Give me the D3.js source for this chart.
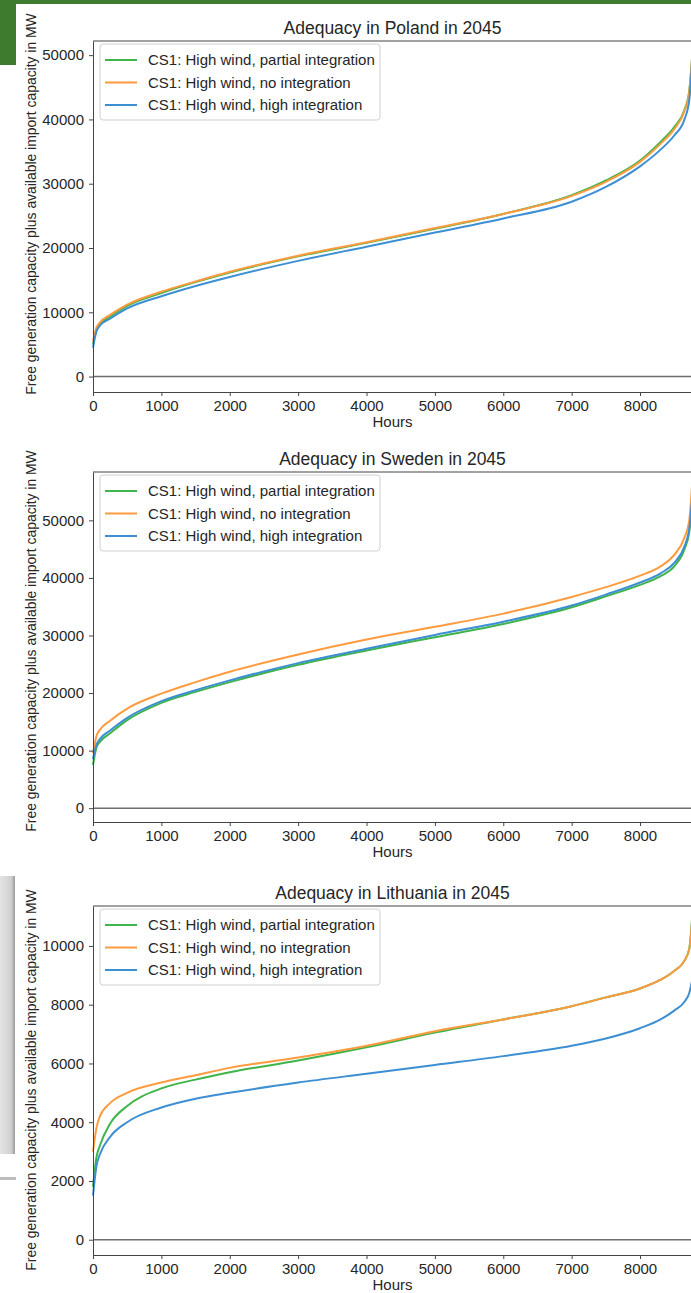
<!DOCTYPE html>
<html>
<head>
<meta charset="utf-8">
<style>
  html, body { margin: 0; padding: 0; background: #fff; }
  svg { display: block; font-family: "Liberation Sans", Arial, sans-serif; }
  .tick text { fill: #262626; font-size: 15px; }
  .tick line { stroke: #444; }
  .domain { stroke: #444; }
</style>
</head>
<body>
<svg id="svg" width="691" height="1293"></svg>
<script src="https://d3js.org/d3.v7.min.js"></script>
<script>
// ----------------------------------------------------------------------------
//                               DATA
// ----------------------------------------------------------------------------
// Sample hours of the sorted (duration) curves.
var hours = [0, 50, 100, 250, 500, 1000, 1500, 2000, 3000, 4000, 5000,
             6000, 7000, 7500, 8000, 8300, 8500, 8650, 8720, 8760];

var seriesNames = ["CS1: High wind, partial integration",
                   "CS1: High wind, no integration",
                   "CS1: High wind, high integration"];
var seriesColors = ["#3fb44a", "#ff9b3f", "#3d8fd3"];

// Poland
var polandPartial = [5000, 7200, 8100, 9300, 11000, 13000, 14700, 16200, 18700, 20800,
                     23000, 25300, 28200, 30500, 33600, 36500, 38800, 41500, 44500, 49500];
var polandNone    = [5500, 7600, 8400, 9600, 11200, 13200, 14800, 16300, 18800, 20900,
                     23100, 25300, 28100, 30300, 33400, 36200, 38500, 41300, 44300, 49300];
var polandHigh    = [4500, 7000, 7900, 9000, 10600, 12500, 14100, 15500, 18000, 20200,
                     22400, 24600, 27200, 29500, 32700, 35300, 37500, 40000, 43000, 48500];

// Sweden
var swedenPartial = [7500, 10500, 11500, 13000, 15300, 18300, 20200, 21900, 24900, 27400,
                     29700, 32000, 34900, 36800, 38800, 40300, 42000, 45000, 48000, 53000];
var swedenNone    = [9500, 12500, 13600, 15200, 17300, 19900, 21900, 23700, 26700, 29300,
                     31500, 33800, 36700, 38400, 40400, 42000, 44000, 47000, 50000, 56000];
var swedenHigh    = [8500, 11000, 12000, 13500, 15700, 18600, 20500, 22200, 25200, 27700,
                     30100, 32400, 35200, 37100, 39200, 40800, 42600, 45500, 48500, 53500];

// Lithuania
var lithuaniaPartial = [1800, 2800, 3200, 3950, 4550, 5150, 5450, 5700, 6100, 6550,
                        7050, 7500, 7950, 8250, 8550, 8850, 9150, 9500, 9900, 10900];
var lithuaniaNone    = [3000, 3800, 4200, 4650, 5000, 5350, 5600, 5850, 6200, 6600,
                        7100, 7500, 7950, 8250, 8550, 8850, 9150, 9500, 9900, 10800];
var lithuaniaHigh    = [1500, 2500, 2900, 3500, 4000, 4500, 4800, 5000, 5350, 5650,
                        5950, 6250, 6600, 6850, 7200, 7500, 7800, 8100, 8400, 8800];

// Tick labels
var xTicks = [0, 1000, 2000, 3000, 4000, 5000, 6000, 7000, 8000];
var yTicksLarge = [0, 10000, 20000, 30000, 40000, 50000];
var yTicksSmall = [0, 2000, 4000, 6000, 8000, 10000];

// ----------------------------------------------------------------------------
//                               LAYOUT
// ----------------------------------------------------------------------------
var left = 93, right = 692;
var panels = [
  { title: "Adequacy in Poland in 2045", top: 41, bottom: 392, ydom: [-2400, 52200],
    yticks: yTicksLarge, labelY: 204, series: [polandPartial, polandNone, polandHigh] },
  { title: "Adequacy in Sweden in 2045", top: 472, bottom: 822, ydom: [-2400, 58400],
    yticks: yTicksLarge, labelY: 641, series: [swedenPartial, swedenNone, swedenHigh] },
  { title: "Adequacy in Lithuania in 2045", top: 906, bottom: 1255, ydom: [-520, 11360],
    yticks: yTicksSmall, labelY: 1080, series: [lithuaniaPartial, lithuaniaNone, lithuaniaHigh] }
];

var svg = d3.select("#svg");

// Scan artefacts around the figure (page border and green header).
svg.append("rect").attr("x", 0).attr("y", 0).attr("width", 691).attr("height", 4).attr("fill", "#3e7b2f");
svg.append("rect").attr("x", 0).attr("y", 0).attr("width", 16).attr("height", 65).attr("fill", "#3e7b2f");
var grad = svg.append("defs").append("linearGradient").attr("id", "shade");
grad.append("stop").attr("offset", "0%").attr("stop-color", "#e4e4e4");
grad.append("stop").attr("offset", "75%").attr("stop-color", "#cfcfcf");
grad.append("stop").attr("offset", "100%").attr("stop-color", "#9a9a9a");
svg.append("rect").attr("x", 0).attr("y", 876).attr("width", 15).attr("height", 278).attr("fill", "url(#shade)");
svg.append("rect").attr("x", 0).attr("y", 1177).attr("width", 16).attr("height", 3).attr("fill", "#bdbdbd");

var x = d3.scaleLinear().domain([0, 8760]).range([left, right]);

panels.forEach(function(p) {
  var y = d3.scaleLinear().domain(p.ydom).range([p.bottom, p.top]);
  var g = svg.append("g");

  // Title
  g.append("text")
    .attr("x", (left + right) / 2).attr("y", p.top - 7)
    .attr("text-anchor", "middle").attr("font-size", 17.5).attr("fill", "#262626")
    .text(p.title);

  // Zero line
  g.append("line")
    .attr("x1", left).attr("x2", right)
    .attr("y1", y(0)).attr("y2", y(0))
    .attr("stroke", "#6e6e6e").attr("stroke-width", 1.6);

  // Curves
  var line = d3.line()
    .x(function(d, i) { return x(hours[i]); })
    .y(function(d) { return y(d); })
    .curve(d3.curveMonotoneX);
  p.series.forEach(function(s, i) {
    g.append("path")
      .datum(s)
      .attr("d", line)
      .attr("fill", "none")
      .attr("stroke", seriesColors[i])
      .attr("stroke-width", 2);
  });

  // Frame
  g.append("line").attr("x1", left).attr("x2", right).attr("y1", p.top).attr("y2", p.top)
    .attr("stroke", "#444").attr("stroke-width", 1);
  g.append("line").attr("x1", right).attr("x2", right).attr("y1", p.top).attr("y2", p.bottom)
    .attr("stroke", "#444").attr("stroke-width", 1);

  // Axes
  g.append("g")
    .attr("transform", "translate(0," + p.bottom + ")")
    .call(d3.axisBottom(x).tickValues(xTicks).tickFormat(d3.format("d"))
          .tickSize(4).tickSizeOuter(0).tickPadding(4));
  g.append("g")
    .attr("transform", "translate(" + left + ",0)")
    .call(d3.axisLeft(y).tickValues(p.yticks).tickFormat(d3.format("d"))
          .tickSize(4).tickSizeOuter(0).tickPadding(5));

  // Axis labels
  g.append("text")
    .attr("x", (left + right) / 2).attr("y", p.bottom + 35)
    .attr("text-anchor", "middle").attr("font-size", 15).attr("fill", "#262626")
    .text("Hours");
  g.append("text")
    .attr("transform", "translate(36," + p.labelY + ") rotate(-90)")
    .attr("text-anchor", "middle").attr("font-size", 13.9).attr("fill", "#262626")
    .text("Free generation capacity plus available import capacity in MW");

  // Legend
  var lg = g.append("g").attr("transform", "translate(100," + (p.top + 3) + ")");
  lg.append("rect")
    .attr("width", 280).attr("height", 76).attr("rx", 3)
    .attr("fill", "#fff").attr("fill-opacity", 0.85)
    .attr("stroke", "#d0d0d0").attr("stroke-width", 1);
  seriesNames.forEach(function(name, i) {
    var ry = 16 + i * 22.5;
    lg.append("line")
      .attr("x1", 5).attr("x2", 37).attr("y1", ry).attr("y2", ry)
      .attr("stroke", seriesColors[i]).attr("stroke-width", 2);
    lg.append("text")
      .attr("x", 48).attr("y", ry + 5)
      .attr("font-size", 15).attr("fill", "#262626")
      .text(name);
  });
});
</script>
</body>
</html>
